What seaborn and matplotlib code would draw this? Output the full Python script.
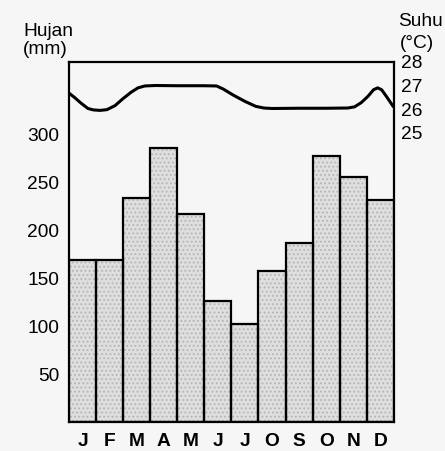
import matplotlib
matplotlib.use("Agg")
import matplotlib.pyplot as plt
import seaborn as sns
import numpy as np

# rainfall per month (mm)
months = ["J", "F", "M", "A", "M", "J", "J", "O", "S", "O", "N", "D"]
rain = [169, 169, 234, 286, 217, 126, 102, 158, 187, 278, 256, 232]

# temperature curve (x in months from left edge, °C)
temp_x = [0.0, 0.2, 0.45, 0.7, 0.9, 1.15, 1.4, 1.7, 2.0, 2.3, 2.55, 2.8, 3.2, 4.0, 5.0, 5.45,
          5.7, 6.06, 6.5, 6.9, 7.2, 7.5, 8.5, 9.5, 10.3, 10.55, 10.8, 11.05, 11.25, 11.4, 11.55, 11.75, 11.98]
temp_y = [26.68, 26.5, 26.25, 26.03, 25.97, 25.95, 25.98, 26.15, 26.45, 26.72, 26.9, 26.98, 27.0, 26.99, 26.99, 26.98,
          26.85, 26.6, 26.33, 26.12, 26.05, 26.03, 26.04, 26.04, 26.05, 26.1, 26.28, 26.55, 26.82, 26.9, 26.82, 26.5, 26.11]

rain_ticks = [50, 100, 150, 200, 250, 300]
temp_ticks = [25, 26, 27, 28]

sns.set_style("white")
plt.rcParams["font.family"] = ["Liberation Sans", "DejaVu Sans"]
plt.rcParams["text.color"] = "black"
plt.rcParams["xtick.color"] = "black"
plt.rcParams["ytick.color"] = "black"
plt.rcParams["hatch.linewidth"] = 0.8

fs = 13.8
bg = "#f6f6f6"
fig = plt.figure(figsize=(4.45, 4.51), dpi=100)
fig.patch.set_facecolor(bg)
ax = fig.add_axes([0.155, 0.064, 0.73, 0.799])
ax.set_facecolor(bg)

# stippled fill, then black outlines on top
sns.barplot(x=list(range(12)), y=rain, ax=ax, width=1.0, color="#dedede",
            edgecolor="#b4b4b4", linewidth=0, saturation=1, hatch="....")
sns.barplot(x=list(range(12)), y=rain, ax=ax, width=1.0, fill=False,
            edgecolor="black", linewidth=1.6, saturation=1)

ax.set_xlim(-0.5, 11.5)
ax.set_ylim(0, 376)
ax.set_yticks(rain_ticks)
ax.set_yticklabels([str(t) for t in rain_ticks], fontsize=fs)
ax.set_xticks(range(12))
ax.set_xticklabels(months, fontsize=fs, fontweight="bold")
ax.tick_params(axis="both", length=0)
ax.tick_params(axis="y", pad=7)
ax.tick_params(axis="x", pad=8)
ax.set_xlabel("")
for s in ax.spines.values():
    s.set_color("black")
    s.set_linewidth(1.6)

ax2 = ax.twinx()
ax2.plot(np.array(temp_x) - 0.5, temp_y, color="black", lw=2.2)
ax2.set_ylim(12.8, 28)
ax2.set_yticks(temp_ticks)
ax2.set_yticklabels([str(t) for t in temp_ticks], fontsize=fs)
ax2.tick_params(axis="y", length=0, pad=5)
for s in ax2.spines.values():
    s.set_visible(False)

W, H = 445, 451
def px_text(x, y, s):
    fig.text(x / W, 1 - y / H, s, fontsize=fs, va="center", ha="left")

px_text(23, 31, "Hujan")
px_text(23, 50, "(mm)")
px_text(398, 22, "Suhu")
px_text(400, 43, "(°C)")

fig.savefig("out.png", dpi=100, facecolor=fig.get_facecolor())
